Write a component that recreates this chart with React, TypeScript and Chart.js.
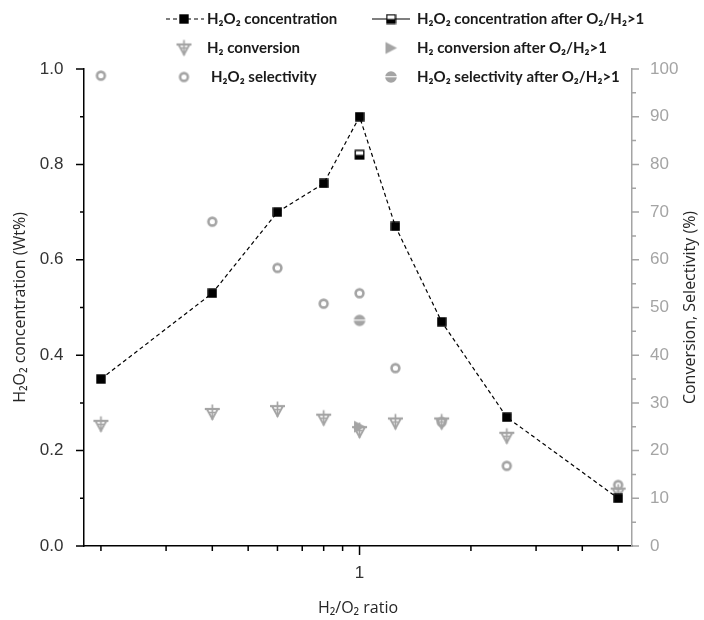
import React, { useEffect, useRef } from 'react';
import { Chart, registerables } from 'chart.js';

Chart.register(...registerables);

// ---- data ----
const ratios = [0.2, 0.4, 0.6, 0.8, 1, 1.25, 1.667, 2.5, 5];
const concentration = [0.35, 0.53, 0.7, 0.76, 0.9, 0.67, 0.47, 0.27, 0.1];
const conversion = [25.5, 28, 28.6, 26.8, 24.2, 26, 26, 23, 11.3];
const selectivity = [98.6, 68, 58.3, 50.8, 53, 37.3, 26, 16.8, 12.8];
const afterRatios = [1];
const concentrationAfter = [0.82];
const conversionAfter = [25];
const selectivityAfter = [47.3];

const xTickValues = [0.2, 0.3, 0.4, 0.5, 0.6, 0.7, 0.8, 0.9, 1, 2, 3, 4, 5];
const xLabelValues = [1];
const leftMajor = [0, 0.2, 0.4, 0.6, 0.8, 1.0];
const leftMinor = [0.1, 0.3, 0.5, 0.7, 0.9];
const rightMajor = [0, 10, 20, 30, 40, 50, 60, 70, 80, 90, 100];
const rightMinor = [5, 15, 25, 35, 45, 55, 65, 75, 85, 95];

const legendLeft = ['H₂O₂ concentration', 'H₂ conversion', 'H₂O₂ selectivity'];
const legendRight = [
  'H₂O₂ concentration after O₂/H₂>1',
  'H₂ conversion after O₂/H₂>1',
  'H₂O₂ selectivity after O₂/H₂>1',
];
const rightTitle = 'Conversion, Selectivity (%)';

const GRAY = '#a4a4a4';
const TITLE_FONT = '"Open Sans", sans-serif';
const TICK_FONT = '"Liberation Sans", Arial, sans-serif';

function mk(w: number, h: number, draw: (c: CanvasRenderingContext2D) => void) {
  const c = document.createElement('canvas');
  c.width = w;
  c.height = h;
  const ctx = c.getContext('2d') as CanvasRenderingContext2D;
  draw(ctx);
  return c;
}

function makeMarkers() {
  const square = mk(10, 10, (c) => {
    c.fillStyle = '#000';
    c.fillRect(0.3, 0.3, 9.4, 9.4);
  });
  const halfSquare = mk(11, 11, (c) => {
    c.fillStyle = '#fff';
    c.fillRect(1, 1, 9, 9);
    c.fillStyle = '#000';
    c.fillRect(1, 5.5, 9, 4.5);
    c.strokeStyle = '#000';
    c.lineWidth = 1.3;
    c.strokeRect(1.2, 1.2, 8.6, 8.6);
  });
  const crossTri = mk(17, 19, (c) => {
    c.strokeStyle = GRAY;
    c.lineCap = 'butt';
    c.lineWidth = 1.9;
    c.beginPath();
    c.moveTo(3, 6);
    c.lineTo(14, 6);
    c.lineTo(8.5, 16);
    c.closePath();
    c.stroke();
    c.lineWidth = 2.2;
    c.beginPath();
    c.moveTo(1, 6);
    c.lineTo(16, 6);
    c.stroke();
    c.lineWidth = 1.7;
    c.beginPath();
    c.moveTo(8.5, 1.5);
    c.lineTo(8.5, 17);
    c.moveTo(5.5, 9.5);
    c.lineTo(11.5, 9.5);
    c.stroke();
  });
  const rightTri = mk(15, 15, (c) => {
    c.fillStyle = GRAY;
    c.beginPath();
    c.moveTo(2, 1.5);
    c.lineTo(13.5, 7.5);
    c.lineTo(2, 13.5);
    c.closePath();
    c.fill();
  });
  const ring = mk(13, 13, (c) => {
    c.strokeStyle = GRAY;
    c.lineWidth = 2.6;
    c.beginPath();
    c.arc(6.5, 6.5, 3.9, 0, Math.PI * 2);
    c.stroke();
  });
  const halfCircle = mk(14, 14, (c) => {
    c.fillStyle = GRAY;
    c.beginPath();
    c.arc(7, 7, 5.8, 0, Math.PI * 2);
    c.fill();
    c.fillStyle = '#fff';
    c.fillRect(1, 6.2, 12, 1.1);
  });
  return { square, halfSquare, crossTri, rightTri, ring, halfCircle };
}

export default function App() {
  const ref = useRef<HTMLCanvasElement | null>(null);

  useEffect(() => {
    document.body.style.margin = '0';
    const canvas = ref.current;
    if (!canvas) return;
    const m = makeMarkers();

    const pts = (xs: number[], ys: number[]) => xs.map((x, i) => ({ x, y: ys[i] }));

    const tickPlugin = {
      id: 'customTicks',
      afterDraw(chart: any) {
        const { ctx, chartArea, scales } = chart;
        const x = scales.x, y = scales.y, y1 = scales.y1;
        ctx.save();
        ctx.lineWidth = 1.5;
        ctx.strokeStyle = '#000';
        ctx.beginPath();
        xTickValues.forEach((v) => {
          const px = x.getPixelForValue(v);
          const len = xLabelValues.includes(v) ? 9 : 5;
          ctx.moveTo(px, chartArea.bottom);
          ctx.lineTo(px, chartArea.bottom + len);
        });
        leftMajor.forEach((v) => {
          const py = y.getPixelForValue(v);
          ctx.moveTo(chartArea.left, py);
          ctx.lineTo(chartArea.left - 8, py);
        });
        leftMinor.forEach((v) => {
          const py = y.getPixelForValue(v);
          ctx.moveTo(chartArea.left, py);
          ctx.lineTo(chartArea.left - 4, py);
        });
        ctx.stroke();
        ctx.strokeStyle = GRAY;
        ctx.beginPath();
        rightMajor.forEach((v) => {
          const py = y1.getPixelForValue(v);
          ctx.moveTo(chartArea.right, py);
          ctx.lineTo(chartArea.right + 7, py);
        });
        rightMinor.forEach((v) => {
          const py = y1.getPixelForValue(v);
          ctx.moveTo(chartArea.right, py);
          ctx.lineTo(chartArea.right + 4, py);
        });
        ctx.stroke();

        // right axis title, reading bottom-to-top
        ctx.save();
        ctx.translate(690, (chartArea.top + chartArea.bottom) / 2);
        ctx.rotate(-Math.PI / 2);
        ctx.fillStyle = '#262626';
        ctx.font = '16px ' + TITLE_FONT;
        ctx.textAlign = 'center';
        ctx.textBaseline = 'middle';
        ctx.fillText(rightTitle, 0, 0);
        ctx.restore();
        ctx.restore();
      },
    };

    const legendPlugin = {
      id: 'customLegend',
      afterDraw(chart: any) {
        const { ctx } = chart;
        const rows = [19, 48, 77];
        const lSym = 184, lText = 207, rSym = 391, rText = 417;
        ctx.save();
        ctx.strokeStyle = '#000';
        ctx.lineWidth = 1.2;
        ctx.setLineDash([4, 3]);
        ctx.beginPath();
        ctx.moveTo(166, rows[0]);
        ctx.lineTo(204, rows[0]);
        ctx.stroke();
        ctx.setLineDash([]);
        ctx.beginPath();
        ctx.moveTo(372, rows[0]);
        ctx.lineTo(410, rows[0]);
        ctx.stroke();
        const put = (img: HTMLCanvasElement, cx: number, cy: number) =>
          ctx.drawImage(img, cx - img.width / 2, cy - img.height / 2);
        put(m.square, lSym, rows[0]);
        put(m.halfSquare, rSym, rows[0]);
        put(m.crossTri, lSym, rows[1]);
        put(m.rightTri, rSym, rows[1]);
        put(m.ring, lSym, rows[2]);
        put(m.halfCircle, rSym, rows[2]);
        ctx.fillStyle = '#1a1a1a';
        ctx.font = 'bold 15px Lato, "Noto Sans", sans-serif';
        ctx.textBaseline = 'middle';
        ctx.textAlign = 'left';
        legendLeft.forEach((t, i) => ctx.fillText(t, i === 2 ? lText + 4 : lText, rows[i]));
        legendRight.forEach((t, i) => ctx.fillText(t, rText, rows[i]));
        ctx.restore();
      },
    };

    const chart = new Chart(canvas, {
      type: 'scatter',
      data: {
        datasets: [
          {
            label: legendLeft[0],
            data: pts(ratios, concentration),
            yAxisID: 'y',
            showLine: true,
            borderColor: '#000',
            borderWidth: 1.2,
            borderDash: [4, 3],
            pointStyle: m.square,
            pointRadius: 5,
          },
          {
            label: legendRight[0],
            data: pts(afterRatios, concentrationAfter),
            yAxisID: 'y',
            pointStyle: m.halfSquare,
            pointRadius: 5,
          },
          {
            label: legendRight[1],
            data: pts(afterRatios, conversionAfter),
            yAxisID: 'y1',
            pointStyle: m.rightTri,
            pointRadius: 5,
          },
          {
            label: legendLeft[1],
            data: pts(ratios, conversion),
            yAxisID: 'y1',
            pointStyle: m.crossTri,
            pointRadius: 5,
          },
          {
            label: legendRight[2],
            data: pts(afterRatios, selectivityAfter),
            yAxisID: 'y1',
            pointStyle: m.halfCircle,
            pointRadius: 5,
          },
          {
            label: legendLeft[2],
            data: pts(ratios, selectivity),
            yAxisID: 'y1',
            pointStyle: m.ring,
            pointRadius: 5,
          },
        ] as any,
      },
      options: {
        responsive: false,
        animation: false,
        devicePixelRatio: 1,
        layout: { padding: { top: 69, left: 0, right: 0, bottom: 0 } },
        plugins: { legend: { display: false }, tooltip: { enabled: false } },
        elements: { line: { tension: 0 } },
        datasets: { scatter: { clip: false } } as any,
        scales: {
          x: {
            type: 'logarithmic',
            min: 0.18,
            max: 5.45,
            grid: { display: false },
            border: { display: true, color: '#000', width: 1.5 },
            afterBuildTicks: (s: any) => {
              s.ticks = xTickValues.map((v) => ({ value: v }));
            },
            afterFit: (s: any) => {
              s.height = 74;
            },
            ticks: {
              autoSkip: false,
              maxRotation: 0,
              padding: 9,
              color: '#333',
              font: { family: TICK_FONT, size: 17 },
              callback: (v: any) => (xLabelValues.includes(Number(v)) ? String(v) : ''),
            },
            title: {
              display: true,
              text: 'H₂/O₂ ratio',
              color: '#262626',
              font: { family: TITLE_FONT, size: 16 },
              padding: { top: 0, bottom: 2.4 },
            },
          },
          y: {
            type: 'linear',
            position: 'left',
            min: 0,
            max: 1,
            grid: { display: false },
            border: { display: true, color: '#000', width: 1.5 },
            afterBuildTicks: (s: any) => {
              s.ticks = leftMajor.map((v) => ({ value: v }));
            },
            afterFit: (s: any) => {
              s.width = 84;
            },
            ticks: {
              padding: 12.5,
              color: '#333',
              font: { family: TICK_FONT, size: 17 },
              callback: (v: any) => Number(v).toFixed(1),
            },
            title: {
              display: true,
              text: 'H₂O₂ concentration (Wt%)',
              color: '#262626',
              font: { family: TITLE_FONT, size: 16 },
              padding: { top: 10.4, bottom: 0 },
            },
          },
          y1: {
            type: 'linear',
            position: 'right',
            min: 0,
            max: 100,
            grid: { display: false },
            border: { display: true, color: GRAY, width: 1.5 },
            afterBuildTicks: (s: any) => {
              s.ticks = rightMajor.map((v) => ({ value: v }));
            },
            afterFit: (s: any) => {
              s.width = 72;
            },
            ticks: {
              padding: 10,
              color: GRAY,
              font: { family: TICK_FONT, size: 17 },
              callback: (v: any) => String(v),
            },
            title: { display: false },
          },
        },
      } as any,
      plugins: [tickPlugin, legendPlugin],
    });

    return () => chart.destroy();
  }, []);

  return (
    <div style={{ width: 704, height: 620, background: '#fff' }}>
      <canvas ref={ref} width={704} height={620} style={{ display: 'block' }} />
    </div>
  );
}
